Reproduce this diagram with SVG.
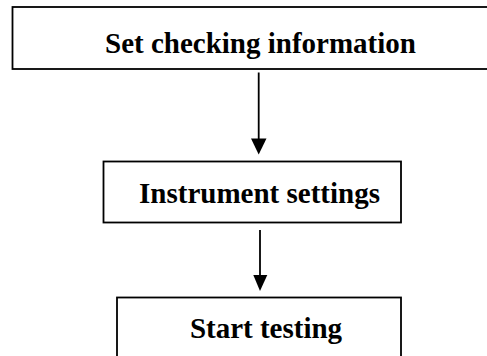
<svg xmlns="http://www.w3.org/2000/svg" width="487" height="356" viewBox="0 0 487 356">
<defs>
<style>
.box{fill:#fff;stroke:#000;stroke-width:1.8}
.lbl{font-family:"Liberation Serif","Times New Roman",serif;font-weight:bold;font-size:29px;fill:#000;text-anchor:middle}
.edge{stroke:#000;stroke-width:1.8;fill:none}
</style>
</defs>
<rect width="487" height="356" fill="#fff"/>
<g id="n1">
<rect class="box" x="12.5" y="7" width="480" height="62"/>
<text class="lbl" x="260.5" y="53">Set checking information</text>
</g>
<g id="n2">
<rect class="box" x="103.5" y="161.5" width="297.5" height="61"/>
<text class="lbl" x="259.5" y="203">Instrument settings</text>
</g>
<g id="n3">
<rect class="box" x="117" y="297.5" width="284" height="80"/>
<text class="lbl" x="266" y="338">Start testing</text>
</g>
<g id="edges">
<line class="edge" x1="258.7" y1="72.5" x2="258.7" y2="140"/>
<polygon points="251,138.5 266.5,138.5 258.7,154.5" fill="#000"/>
<line class="edge" x1="260" y1="230" x2="260" y2="276"/>
<polygon points="253.3,275 267.3,275 260,291" fill="#000"/>
</g>
</svg>
